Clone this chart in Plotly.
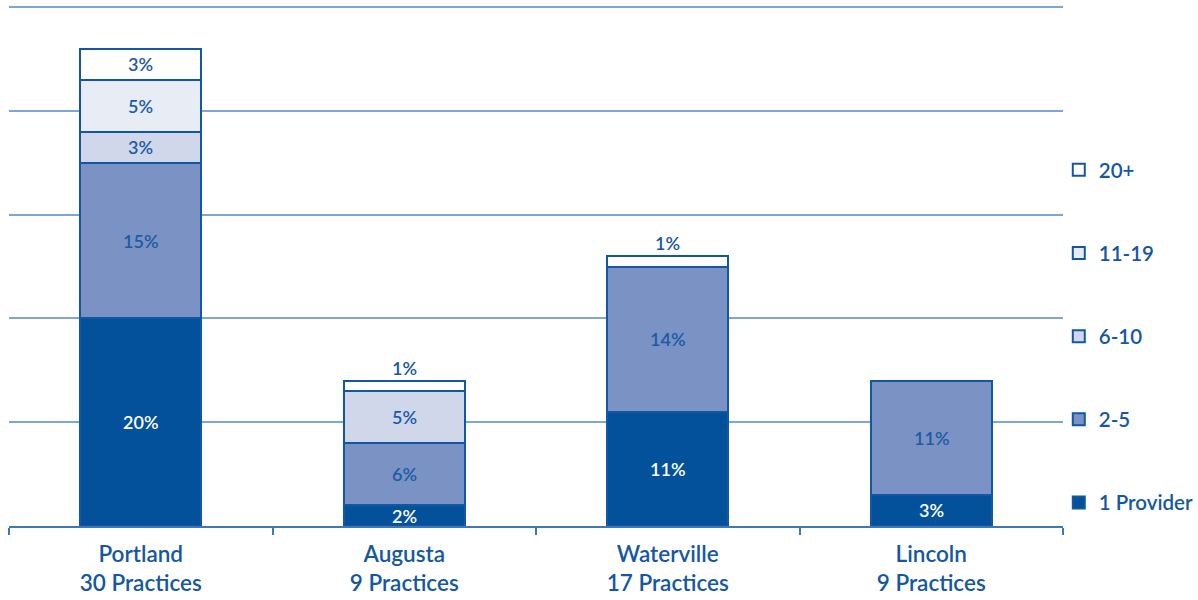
import plotly.graph_objects as go

# Share of practices by provider count, per city
cities = ["Portland", "Augusta", "Waterville", "Lincoln"]
practices = [30, 9, 17, 9]
series_names = ["1 Provider", "2-5", "6-10", "11-19", "20+"]
one_provider = [20, 2, 11, 3]
two_to_five = [15, 6, 14, 11]
six_to_ten = [3, 5, None, None]
eleven_to_nineteen = [5, None, None, None]
twenty_plus = [3, 1, 1, None]

series_values = [one_provider, two_to_five, six_to_ten, eleven_to_nineteen, twenty_plus]
fills = ["#03519b", "#7b93c4", "#d0d7ea", "#e8ecf5", "#ffffff"]
label_colors = ["#ffffff", "#1d5aa5", "#1d5aa5", "#1d5aa5", "#1d5aa5"]
edge = "#1157a3"
text_blue = "#1557a3"
font_family = "Lato, 'Open Sans', sans-serif"
weight = 600

categories = [f"{c}<br>{n} Practices" for c, n in zip(cities, practices)]

fig = go.Figure()
for i, (name, vals) in enumerate(zip(series_names, series_values)):
    fig.add_trace(go.Bar(
        x=categories, y=vals, name=name,
        marker=dict(color=fills[i], line=dict(color=edge, width=2)),
        legendgroup=name, legendrank=100 - i,
        hoverinfo="skip",
    ))

# Value labels: centred in each segment; thin top segments get the label above
annotations = []
for j, cat in enumerate(categories):
    base = 0
    for i, vals in enumerate(series_values):
        v = vals[j]
        if v is None:
            continue
        top_of_bar = all(series_values[k][j] is None for k in range(i + 1, len(series_values)))
        if v <= 1 and top_of_bar:
            annotations.append(dict(x=cat, y=base + v, text=f"{v}%", showarrow=False,
                                    yanchor="bottom", yshift=0,
                                    font=dict(size=18, color=text_blue, family=font_family,
                                              weight=weight)))
        else:
            annotations.append(dict(x=cat, y=base + v / 2, text=f"{v}%", showarrow=False,
                                    font=dict(size=18, color=label_colors[i], family=font_family,
                                              weight=weight)))
        base += v

fig.update_layout(
    barmode="stack",
    bargap=0.54,
    width=1198, height=600,
    margin=dict(l=9, r=135, t=6, b=74, autoexpand=False),
    paper_bgcolor="white", plot_bgcolor="white",
    font=dict(family=font_family, color=text_blue),
    annotations=annotations,
    showlegend=True,
    legend=dict(
        x=0.996, xanchor="left", y=0.723, yanchor="top",
        tracegroupgap=53.5,
        font=dict(size=20.5, color=text_blue, family=font_family, weight=weight),
        bgcolor="rgba(0,0,0,0)",
    ),
    xaxis=dict(
        showline=True, linecolor="#3f78b8", linewidth=1.5,
        ticks="outside", tickson="boundaries", ticklen=7, tickcolor="#3f78b8", tickwidth=1.5,
        tickfont=dict(size=22.5, color=text_blue, family=font_family, weight=weight),
        ticklabelstandoff=7,
        showgrid=False,
    ),
    yaxis=dict(
        range=[0, 50.1], dtick=10, showgrid=True, gridcolor="#7fa6d3", gridwidth=1.5,
        zeroline=False, showticklabels=False, showline=False,
    ),
)

fig.write_html("out.html")
